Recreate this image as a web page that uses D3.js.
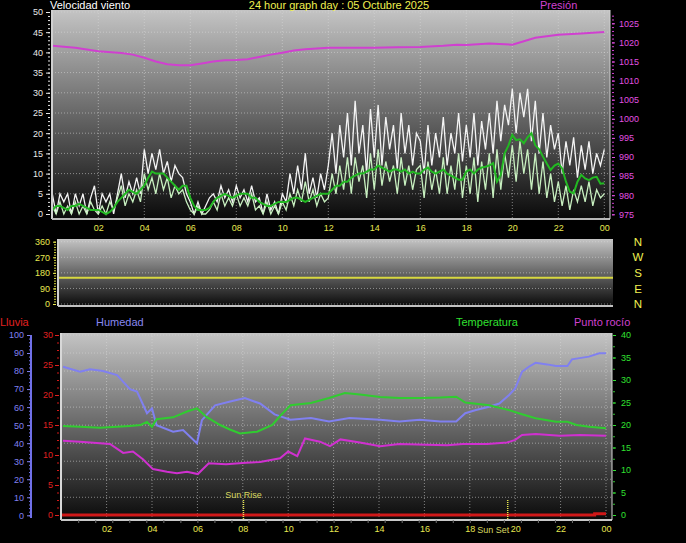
<!DOCTYPE html>
<html><head><meta charset="utf-8">
<script src="https://cdn.jsdelivr.net/npm/d3@7"></script>
<style>
body{margin:0;background:#000;}
svg{display:block;}
text{font-family:"Liberation Sans",Arial,sans-serif;}
</style>
</head><body>
<svg id="c" width="686" height="543"></svg>
<script>
// ---------- DATA ----------
const hourTicks = [2,4,6,8,10,12,14,16,18,20,22,24];
const hourLabels = ["02","04","06","08","10","12","14","16","18","20","22","00"];
const windTicks = [0,5,10,15,20,25,30,35,40,45,50];
const pressTicks = [975,980,985,990,995,1000,1005,1010,1015,1020,1025];
const dirTicks = [0,90,180,270,360];
const dirLetters = ["N","E","S","W","N"];
const humTicks = [0,10,20,30,40,50,60,70,80,90,100];
const rainTicks = [0,5,10,15,20,25,30];
const tempTicks = [0,5,10,15,20,25,30,35,40];

// wind samples every 10 minutes (index i -> hour i/6)
const windStepH = 1/6;
const gust = [
 5,0,5,3,5,0,  5,2,5,0,4,7,  0,5,3,5,0,5,  10,4,8,5,9,5,  16,10,15,11,16,10,  13,8,12,10,9,5,
 3,0,3,0,2,4,  5,3,7,4,6,3,  7,4,6,3,7,3,  4,0,5,1,3,0,  5,3,10,5,12,6,  15,5,9,4,10,6,
 12,20,10,22,14,25,  12,28,15,22,10,26,  14,27,12,24,16,22,  11,25,15,22,12,20,  18,10,22,12,20,14,  24,12,20,15,25,13,
 22,14,25,12,23,16,  25,15,28,18,27,22,  31,20,30,24,31,18,  28,15,25,14,22,16,  20,10,18,12,19,9,  17,11,18,10,15,12,
 16];
const wind = [
 2,0,3,0,2,0,  3,0,2,0,3,1,  0,2,0,3,1,4,  7,2,5,3,6,3,  10,6,9,5,10,6,  9,4,7,5,6,3,
 1,0,2,0,0,1,  3,1,5,2,4,2,  5,2,4,2,5,1,  2,0,3,0,2,0,  3,1,5,2,6,3,  8,3,6,2,5,3,
 4,10,5,12,6,14,  5,14,8,12,4,15,  6,16,7,13,8,12,  5,14,7,12,6,11,  12,4,13,6,11,5,  14,5,12,6,15,4,
 12,5,14,3,13,6,  15,4,16,6,15,9,  17,8,18,10,16,6,  15,5,13,4,10,3,  8,2,7,1,6,3,  7,3,8,2,6,4,
 5];
const avgWind = [
 1,2,2,1.5,1,2,  2,2.5,2,1.5,1,1,  1,0.5,0,0.5,1.5,3,  4,5,6,5.5,5,6,  7,9,10.5,10,10,10,  9,8,7,6,7,7,
 4,2,1,1,1,1.5,  3,4,4.5,5,4.5,4,  4.5,5,5,5,4,4,  3,2.5,2,2,2.5,3,  3,3,3.5,4,4,3.5,  3,3.5,4,4.5,5,5,
 5,6,7,7,8,8,  9,9.5,10,10,10.5,11,  11,12,11.5,11,10.5,11,  11,10.5,11,10,10.5,10,  10,11,11.5,10.5,10,10.5,  11,10,9.5,9,8.5,8.5,
 10.5,11,10,11,11.5,11.7,  12,12.6,8,9.7,15,17,  19.6,18.3,18.5,17.5,19,20,  17,16,14.2,12.5,10.9,12,  12.5,11.3,8,5.5,5.1,8,  9.7,8.8,8.4,9,9.2,7.5,
 7.6];

const pressH = [0,1,2,3,3.5,4,4.5,5,5.5,6,6.5,7,7.5,8,8.5,9,9.5,10,10.5,11,12,13,14,15,16,17,17.6,18,19,20,20.5,21,22,23,24];
const pressV = [1019.1,1018.6,1017.7,1017.2,1016.8,1016.0,1015.0,1014.3,1014.0,1014.0,1014.5,1015.0,1015.3,1015.4,1015.6,1016.2,1016.8,1017.3,1017.9,1018.2,1018.6,1018.6,1018.6,1018.7,1018.8,1019.1,1019.4,1019.3,1019.7,1019.4,1020.3,1021.2,1022.0,1022.3,1022.7];

const dirH = [0,24];
const dirV = [152,152];

const humH = [0.08,0.83,1.27,1.84,2.46,3.03,3.34,3.78,4.0,4.2,4.93,5.37,5.98,6.2,6.78,7.4,8.09,8.76,9.4,10.1,11,11.8,12.7,14.05,14.9,15.8,16.7,17.4,17.8,18.27,18.85,19.3,19.73,20.0,20.3,20.6,20.9,21.4,21.8,22.3,22.5,23.25,23.7,24];
const humV = [82.4,79.6,81,80,77.8,70,68.6,56.6,59.3,50,46.4,47.3,40,52.8,61,63,65,62,56,53,54,52,54,53,52,53,52,52,56.6,58.4,60.2,62,66.7,70.4,79.6,82.4,84.6,83.7,82.8,82.8,86.5,88,89.9,89.9];

const tempH = [0.08,0.83,1.7,2.46,3.03,3.5,3.78,4.0,4.2,4.93,5.54,5.98,6.4,7.0,7.43,7.88,8.63,9.3,9.64,10.1,11,11.8,12.5,13.16,14.05,14.9,15.8,16.7,17.4,17.8,18.85,19.73,20.3,20.9,21.8,22.3,22.7,23.25,24];
const tempV = [19.8,19.6,19.4,19.6,19.8,20,20.7,19.6,21.3,21.7,23.0,23.7,21.8,20,19.0,18.1,18.5,20,22,24.4,24.9,26,27.1,26.8,26.2,26,26,26.1,26.3,25,24.4,23.3,22.4,21.5,20.7,20.7,20,19.6,19.3];

const dewH = [0.08,0.83,2.15,2.73,3.16,3.6,4.04,4.66,5.1,5.54,6.02,6.2,6.5,7.26,8.14,8.76,9.64,10.0,10.4,10.74,11.4,11.84,12.3,13.16,14.05,14.9,16.1,17.0,17.7,18.76,19.64,20.0,20.3,20.9,21.97,22.85,24];
const dewV = [16.5,16.3,15.8,13.8,14.1,12.4,10.2,9.6,9.3,9.6,9.1,10,11.5,11.3,11.6,11.8,12.6,14.1,13.1,17,16.3,15.3,16.8,16.1,15.3,15.8,15.6,15.5,15.8,15.8,16.1,16.7,17.8,18,17.6,17.8,17.6];

const rainH = [0,23.5,23.5,24];
const rainV = [0,0,0.2,0.2];

const sunRiseH = 8.03;
const sunSetH = 19.67;

// ---------- DRAW ----------
const svg = d3.select("#c");
const defs = svg.append("defs");
const grad = defs.append("linearGradient").attr("id","bg").attr("x1",0).attr("y1",0).attr("x2",0).attr("y2",1);
grad.append("stop").attr("offset","0%").attr("stop-color","#c4c4c4");
grad.append("stop").attr("offset","100%").attr("stop-color","#0a0a0a");

const FONT = 9;
function gridDots(g, x1, y1, x2, y2){
  g.append("line").attr("x1",x1).attr("y1",y1).attr("x2",x2).attr("y2",y2)
   .attr("stroke","#d8d8d8").attr("stroke-opacity",0.55).attr("stroke-dasharray","1,2").attr("stroke-width",1);
}
function styleAxis(g, color){
  g.select(".domain").remove();
  g.selectAll("line").attr("stroke",color);
  g.selectAll("text").attr("fill",color).attr("font-size",FONT).attr("font-family","Liberation Sans, Arial, sans-serif");
}
function range(a,b,s){const r=[];for(let v=a;v<=b+1e-9;v+=s)r.push(+v.toFixed(4));return r;}

// ===== Panel 1 : wind + pressure =====
const P1 = {l:52, r:610, t:10, b:219};
const x1 = d3.scaleLinear().domain([0,24]).range([52.3,604.3]);
const yW = d3.scaleLinear().domain([0,50]).range([214,12]);
const yP = d3.scaleLinear().domain([975,1025]).range([214.3,23.3]);
const g1 = svg.append("g");
g1.append("rect").attr("x",P1.l).attr("y",P1.t).attr("width",P1.r-P1.l).attr("height",P1.b-P1.t).attr("fill","url(#bg)");
windTicks.filter(v=>v>0).forEach(v=>gridDots(g1,P1.l,yW(v),P1.r,yW(v)));
hourTicks.forEach(h=>gridDots(g1,x1(h),P1.t,x1(h),P1.b));

const tW = i=>i*windStepH;
const lineW = d3.line().x((d,i)=>x1(Math.min(24,tW(i)))).y(d=>yW(d));
g1.append("path").datum(gust).attr("d",lineW).attr("fill","none").attr("stroke","#f4f4f4").attr("stroke-width",1.3);
g1.append("path").datum(wind).attr("d",lineW).attr("fill","none").attr("stroke","#c8f0c0").attr("stroke-width",1.3);
g1.append("path").datum(avgWind).attr("d",lineW).attr("fill","none").attr("stroke","#22b822").attr("stroke-width",2);
const lineP = d3.line().x(d=>x1(d[0])).y(d=>yP(d[1]));
g1.append("path").datum(pressH.map((h,i)=>[h,pressV[i]])).attr("d",lineP).attr("fill","none").attr("stroke","#d040d0").attr("stroke-width",2);

// borders
g1.append("line").attr("x1",P1.l).attr("y1",P1.t).attr("x2",P1.l).attr("y2",P1.b).attr("stroke","#d0d0d0").attr("stroke-width",2);
g1.append("line").attr("x1",P1.l).attr("y1",P1.b).attr("x2",P1.r).attr("y2",P1.b).attr("stroke","#b8b8b8").attr("stroke-width",2);
g1.append("line").attr("x1",P1.r).attr("y1",P1.t).attr("x2",P1.r).attr("y2",P1.b).attr("stroke","#d0d0d0").attr("stroke-width",1);

// axes
const aWmin = g1.append("g").attr("transform","translate(50,0)").call(d3.axisLeft(yW).tickValues(range(0,50,1)).tickSize(2).tickFormat(""));
styleAxis(aWmin,"#e8e8e8");
const aW = g1.append("g").attr("transform","translate(50,0)").call(d3.axisLeft(yW).tickValues(windTicks).tickSize(4).tickPadding(3));
styleAxis(aW,"#e8e8e8");
const aPmin = g1.append("g").attr("transform","translate(612,0)").call(d3.axisRight(yP).tickValues(range(975,1027,1)).tickSize(2).tickFormat(""));
styleAxis(aPmin,"#d040d0");
const aP = g1.append("g").attr("transform","translate(612,0)").call(d3.axisRight(yP).tickValues(pressTicks).tickSize(3).tickPadding(4).tickFormat(d3.format("d")));
styleAxis(aP,"#e050e0");
const aX1 = g1.append("g").attr("transform",`translate(0,${P1.b+1})`).call(d3.axisBottom(x1).tickValues(hourTicks).tickSize(0).tickPadding(5).tickFormat((d,i)=>hourLabels[i]));
styleAxis(aX1,"#e8e850");

// titles
svg.append("text").attr("x",50).attr("y",9).attr("fill","#ffffff").attr("font-size",11).text("Velocidad viento");
svg.append("text").attr("x",339).attr("y",9).attr("text-anchor","middle").attr("fill","#f0f050").attr("font-size",11).text("24 hour graph day : 05 Octubre 2025");
svg.append("text").attr("x",540).attr("y",9).attr("fill","#d040d0").attr("font-size",11).text("Presión");

// ===== Panel 2 : wind direction =====
const P2 = {l:58, r:613, t:239, b:306};
const x2 = d3.scaleLinear().domain([0,24]).range([58,613]);
const yD = d3.scaleLinear().domain([0,360]).range([304,241.7]);
const g2 = svg.append("g");
g2.append("rect").attr("x",P2.l).attr("y",P2.t).attr("width",P2.r-P2.l).attr("height",P2.b-P2.t).attr("fill","url(#bg)");
dirTicks.forEach(v=>gridDots(g2,P2.l,yD(v),P2.r,yD(v)));
g2.append("path").datum(dirH.map((h,i)=>[h,dirV[i]])).attr("d",d3.line().x(d=>x2(d[0])).y(d=>yD(d[1]))).attr("fill","none").attr("stroke","#d8d840").attr("stroke-width",2);
g2.append("line").attr("x1",P2.l).attr("y1",P2.t).attr("x2",P2.l).attr("y2",P2.b).attr("stroke","#d0d0d0").attr("stroke-width",2);
g2.append("line").attr("x1",P2.l).attr("y1",P2.b).attr("x2",P2.r).attr("y2",P2.b).attr("stroke","#c0c0c0").attr("stroke-width",2);
const aDmin = g2.append("g").attr("transform","translate(56,0)").call(d3.axisLeft(yD).tickValues(range(0,360,15)).tickSize(2).tickFormat(""));
styleAxis(aDmin,"#d8d840");
const aD = g2.append("g").attr("transform","translate(56,0)").call(d3.axisLeft(yD).tickValues(dirTicks).tickSize(3).tickPadding(3));
styleAxis(aD,"#e8e850");
dirTicks.forEach((v,i)=>{
  svg.append("text").attr("x",638).attr("y",yD(v)).attr("dy","0.36em").attr("text-anchor","middle")
    .attr("fill","#f0f050").attr("font-size",11.5).text(dirLetters[i]);
});

// ===== Panel 3 : temperature, humidity, dew, rain =====
const P3 = {l:61, r:612, t:333, b:520};
const x3 = d3.scaleLinear().domain([0,24]).range([61.2,606]);
const yH = d3.scaleLinear().domain([0,100]).range([515.3,335]);
const yR = d3.scaleLinear().domain([0,30]).range([515,335]);
const yT = d3.scaleLinear().domain([0,40]).range([515,335]);
const g3 = svg.append("g");
g3.append("rect").attr("x",P3.l).attr("y",P3.t).attr("width",P3.r-P3.l).attr("height",P3.b-P3.t).attr("fill","url(#bg)");
humTicks.filter(v=>v>0).forEach(v=>gridDots(g3,P3.l,yH(v),P3.r,yH(v)));
hourTicks.forEach(h=>gridDots(g3,x3(h),P3.t,x3(h),P3.b));

const lineXY = (ys)=>d3.line().x(d=>x3(d[0])).y(d=>ys(d[1]));
g3.append("path").datum(rainH.map((h,i)=>[h,rainV[i]])).attr("d",lineXY(yR)).attr("fill","none").attr("stroke","#d01818").attr("stroke-width",3);
g3.append("path").datum(humH.map((h,i)=>[h,humV[i]])).attr("d",lineXY(yH)).attr("fill","none").attr("stroke","#8080f0").attr("stroke-width",2);
g3.append("path").datum(tempH.map((h,i)=>[h,tempV[i]])).attr("d",lineXY(yT)).attr("fill","none").attr("stroke","#30cc30").attr("stroke-width",2);
g3.append("path").datum(dewH.map((h,i)=>[h,dewV[i]])).attr("d",lineXY(yT)).attr("fill","none").attr("stroke","#d030d0").attr("stroke-width",2);

g3.append("line").attr("x1",P3.l).attr("y1",P3.t).attr("x2",P3.l).attr("y2",P3.b).attr("stroke","#d8d8d8").attr("stroke-width",2);
g3.append("line").attr("x1",P3.l).attr("y1",P3.b).attr("x2",P3.r).attr("y2",P3.b).attr("stroke","#c8c8c8").attr("stroke-width",2);
g3.append("line").attr("x1",P3.r).attr("y1",P3.t).attr("x2",P3.r).attr("y2",P3.b).attr("stroke","#d8d8d8").attr("stroke-width",1);

// sun rise / set
[[sunRiseH,"Sun Rise",495,"middle",0],[sunSetH,"Sun Set",530,"end",1.5]].forEach(([h,t,ty,anc,dx])=>{
  g3.append("line").attr("x1",x3(h)).attr("y1",500).attr("x2",x3(h)).attr("y2",P3.b).attr("stroke","#e8e850").attr("stroke-width",1.5).attr("stroke-dasharray","1,1");
  g3.append("text").attr("x",x3(h)+dx).attr("y",ty).attr("dy","0.36em").attr("text-anchor",anc).attr("fill","#d8d860").attr("font-size",FONT).text(t);
});

// axes
const aHmin = g3.append("g").attr("transform","translate(31,0)").call(d3.axisLeft(yH).tickValues(range(0,100,2)).tickSize(2).tickFormat(""));
styleAxis(aHmin,"#7070e8");
const aH = g3.append("g").attr("transform","translate(31,0)").call(d3.axisLeft(yH).tickValues(humTicks).tickSize(4).tickPadding(3));
styleAxis(aH,"#8080f0");
g3.append("line").attr("x1",31).attr("y1",yH(100)).attr("x2",31).attr("y2",518).attr("stroke","#7070e8").attr("stroke-width",2);
const aRmin = g3.append("g").attr("transform","translate(59,0)").call(d3.axisLeft(yR).tickValues(range(0,30,1.25)).tickSize(2).tickFormat(""));
styleAxis(aRmin,"#d01818");
const aR = g3.append("g").attr("transform","translate(59,0)").call(d3.axisLeft(yR).tickValues(rainTicks).tickSize(4).tickPadding(2));
styleAxis(aR,"#e02020");
const aTmin = g3.append("g").attr("transform","translate(613,0)").call(d3.axisRight(yT).tickValues(range(0,40,2.5)).tickSize(2).tickFormat(""));
styleAxis(aTmin,"#30c030");
const aT = g3.append("g").attr("transform","translate(613,0)").call(d3.axisRight(yT).tickValues(tempTicks).tickSize(3).tickPadding(5));
styleAxis(aT,"#30e030");
const aX3min = g3.append("g").attr("transform",`translate(0,${P3.b})`).call(d3.axisBottom(x3).tickValues(range(0.75,23.5,0.75)).tickSize(3).tickFormat(""));
styleAxis(aX3min,"#707070");
const aX3 = g3.append("g").attr("transform",`translate(0,${P3.b+1})`).call(d3.axisBottom(x3).tickValues(hourTicks).tickSize(0).tickPadding(5).tickFormat((d,i)=>hourLabels[i]));
styleAxis(aX3,"#e8e850");

// panel 3 titles
svg.append("text").attr("x",0).attr("y",326).attr("fill","#e02020").attr("font-size",11).text("Lluvia");
svg.append("text").attr("x",96).attr("y",326).attr("fill","#8888f0").attr("font-size",11).text("Humedad");
svg.append("text").attr("x",456).attr("y",326).attr("fill","#30e030").attr("font-size",11).text("Temperatura");
svg.append("text").attr("x",574).attr("y",326).attr("fill","#d040d0").attr("font-size",11).text("Punto rocío");
</script>
</body></html>
